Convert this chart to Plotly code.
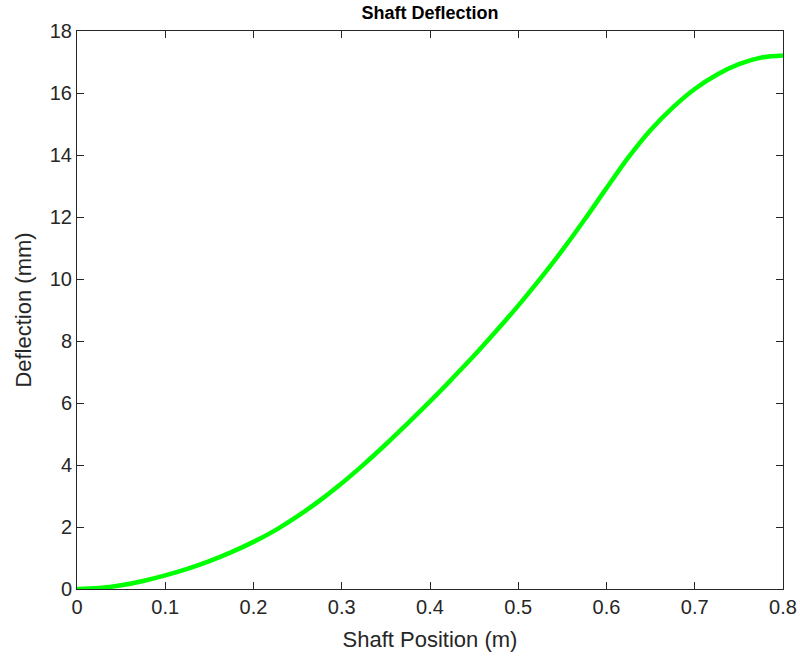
import plotly.graph_objects as go

position_m = [0.0, 0.025, 0.05, 0.075, 0.1, 0.125, 0.15, 0.175, 0.2, 0.225, 0.25, 0.275,
              0.3, 0.325, 0.35, 0.375, 0.4, 0.425, 0.45, 0.475, 0.5, 0.525, 0.55, 0.575,
              0.6, 0.625, 0.65, 0.675, 0.7, 0.725, 0.75, 0.775, 0.8]
deflection_mm = [0.0, 0.03, 0.12, 0.26, 0.44, 0.65, 0.90, 1.19, 1.52, 1.90, 2.35, 2.85,
                 3.41, 4.02, 4.67, 5.35, 6.05, 6.78, 7.53, 8.32, 9.14, 10.01, 10.93, 11.91,
                 12.93, 13.93, 14.81, 15.53, 16.13, 16.59, 16.93, 17.14, 17.21]
x_ticks = [0, 0.1, 0.2, 0.3, 0.4, 0.5, 0.6, 0.7, 0.8]
x_ticklabels = ["0", "0.1", "0.2", "0.3", "0.4", "0.5", "0.6", "0.7", "0.8"]
y_ticks = [0, 2, 4, 6, 8, 10, 12, 14, 16, 18]

ink = "#262626"
font_family = "Liberation Sans, Arial, Helvetica, sans-serif"

fig = go.Figure()
fig.add_trace(go.Scatter(
    x=position_m, y=deflection_mm, mode="lines",
    line=dict(color="#00FF00", width=4.5, shape="spline", smoothing=1.0),
    showlegend=False, hoverinfo="skip",
))

axis_common = dict(
    showline=True, linecolor=ink, linewidth=1, mirror="ticks",
    ticks="inside", ticklen=7, tickwidth=1, tickcolor=ink,
    showgrid=False, zeroline=False, automargin=False,
    tickfont=dict(family=font_family, size=20, color=ink),
)

fig.update_layout(
    width=800, height=664,
    margin=dict(l=77, r=17, t=31, b=75),
    paper_bgcolor="white", plot_bgcolor="white",
    font=dict(family=font_family, color=ink),
    title=dict(text="<b>Shaft Deflection</b>", x=0.5375, xanchor="center",
               y=0.981, yanchor="middle",
               font=dict(family=font_family, size=18, color="#000000")),
    xaxis=dict(range=[0, 0.8], tickvals=x_ticks, ticktext=x_ticklabels,
               title=dict(text="Shaft Position (m)", standoff=14,
                          font=dict(family=font_family, size=22, color=ink)),
               **axis_common),
    yaxis=dict(range=[0, 18], tickvals=y_ticks,
               title=dict(text="Deflection (mm)", standoff=12,
                          font=dict(family=font_family, size=22, color=ink)),
               **axis_common),
)

fig.write_html("out.html")
